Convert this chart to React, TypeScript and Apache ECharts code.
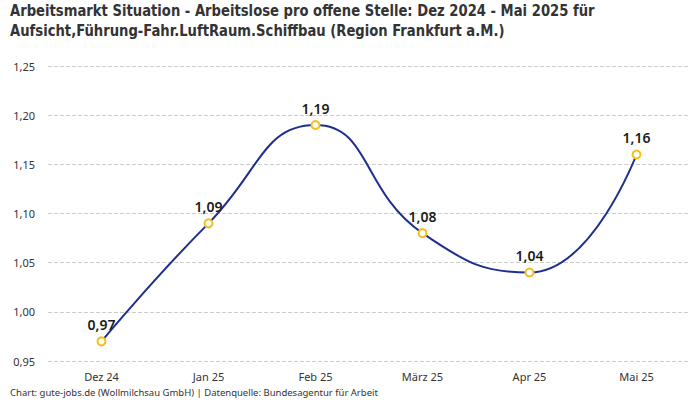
import React, { useEffect, useRef } from "react";
import * as echarts from "echarts";

const categories = ["Dez 24", "Jan 25", "Feb 25", "März 25", "Apr 25", "Mai 25"];
const values = [0.97, 1.09, 1.19, 1.08, 1.04, 1.16];
const titleLines = [
  "Arbeitsmarkt Situation - Arbeitslose pro offene Stelle: Dez 2024 - Mai 2025 für",
  "Aufsicht,Führung-Fahr.LuftRaum.Schiffbau (Region Frankfurt a.M.)",
];
const footer = "Chart: gute-jobs.de (Wollmilchsau GmbH) | Datenquelle: Bundesagentur für Arbeit";

const fmt = (v: number) => v.toFixed(2).replace(".", ",");

export default function App() {
  const ref = useRef<HTMLDivElement>(null);
  useEffect(() => {
    document.body.style.margin = "0";
    if (!ref.current) return;
    const chart = echarts.init(ref.current, undefined, { renderer: "svg" });
    chart.setOption({
      animation: false,
      backgroundColor: "#ffffff",
      graphic: [
        {
          type: "text",
          left: 10,
          top: 1,
          scaleX: 0.916,
          style: {
            text: titleLines.join("\n"),
            fontSize: 16,
            lineHeight: 20,
            fontWeight: "bold",
            fontFamily: "DejaVu Sans Condensed, sans-serif",
            fill: "#333333",
          },
        },
        {
          type: "text",
          left: 10,
          top: 387,
          style: {
            text: footer,
            fontSize: 9.5,
            fontFamily: "Noto Sans, sans-serif",
            fill: "#333333",
          },
        },
      ],
      grid: { left: 48, right: 10, top: 66, bottom: 39 },
      xAxis: {
        type: "category",
        data: categories,
        boundaryGap: true,
        axisLine: { show: false },
        axisTick: { show: false },
        axisLabel: {
          margin: 10,
          fontSize: 11,
          color: "#333333",
          fontFamily: "Noto Sans, sans-serif",
        },
      },
      yAxis: {
        type: "value",
        min: 0.95,
        max: 1.25,
        interval: 0.05,
        axisLine: { show: false },
        axisTick: { show: false },
        axisLabel: {
          formatter: (v: number) => fmt(v),
          fontSize: 11,
          color: "#333333",
          margin: 13,
          fontFamily: "Noto Sans, sans-serif",
        },
        splitLine: { lineStyle: { type: "dashed", color: "#cccccc" } },
      },
      series: [
        {
          type: "line",
          data: values,
          smooth: 0.5,
          symbol: "circle",
          symbolSize: 8,
          lineStyle: { color: "#1f2f8f", width: 2 },
          itemStyle: { color: "#ffffff", borderColor: "#f5c01f", borderWidth: 2 },
          label: {
            show: true,
            position: "top",
            distance: 5,
            formatter: (p: any) => fmt(p.value),
            fontSize: 14,
            fontWeight: 600,
            color: "#1a1a1a",
            fontFamily: "Noto Sans, sans-serif",
          },
        },
      ],
    });
    return () => chart.dispose();
  }, []);
  return <div ref={ref} style={{ width: 700, height: 400 }} />;
}
